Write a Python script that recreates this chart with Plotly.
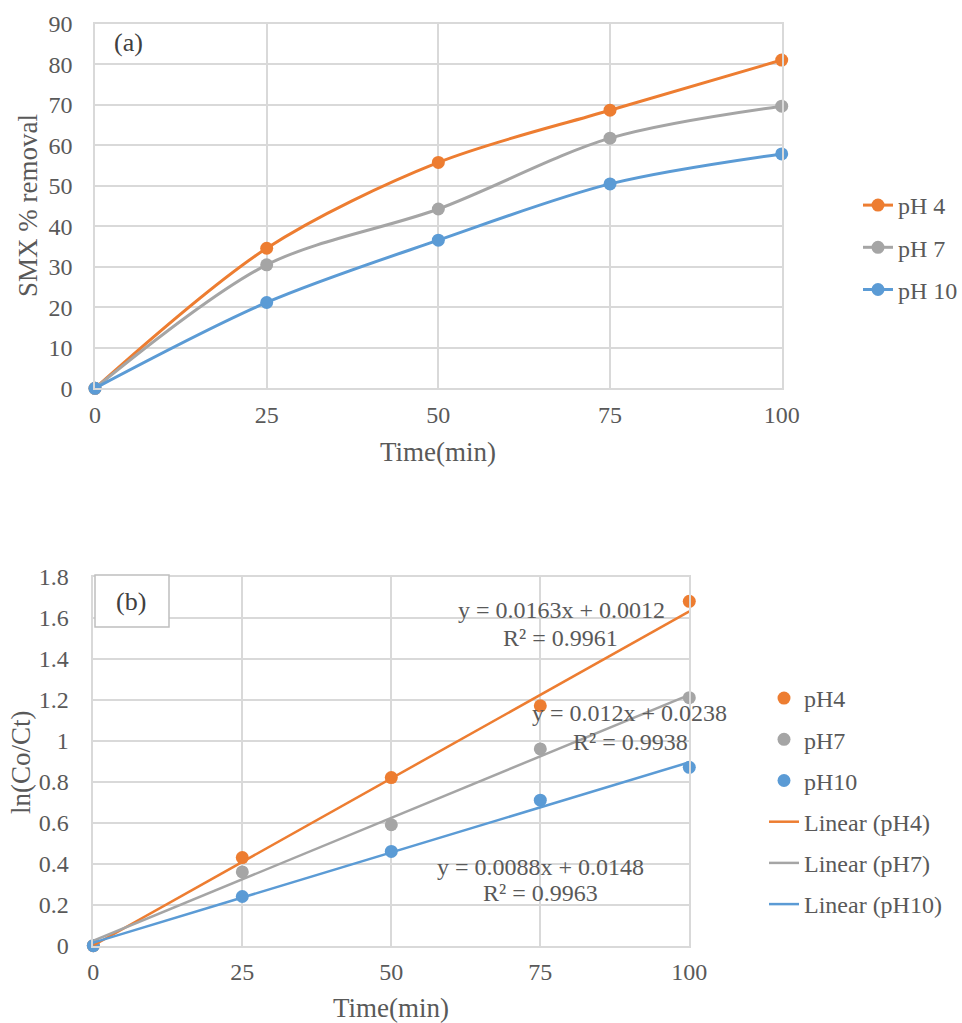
import numpy as np
import plotly.graph_objects as go

# ---- data ----
time_min = [0, 25, 50, 75, 100]

# (a) SMX % removal over time
removal_ph4 = [0, 34.6, 55.8, 68.7, 81.1]
removal_ph7 = [0, 30.5, 44.3, 61.8, 69.7]
removal_ph10 = [0, 21.2, 36.6, 50.5, 57.9]

# (b) pseudo-first-order kinetics, ln(Co/Ct)
ln_ph4 = [0, 0.43, 0.82, 1.17, 1.68]
ln_ph7 = [0, 0.36, 0.59, 0.96, 1.21]
ln_ph10 = [0, 0.24, 0.46, 0.71, 0.87]

# linear fits: slope, intercept, R²
fit_slope = [0.0163, 0.012, 0.0088]
fit_intercept = [0.0012, 0.0238, 0.0148]
fit_r2 = [0.9961, 0.9938, 0.9963]

labels_a = ["pH 4", "pH 7", "pH 10"]
labels_b = ["pH4", "pH7", "pH10"]
colors = ["#ED7D31", "#A5A5A5", "#5B9BD5"]

FONT = "Liberation Serif"
TXT = "#595959"
GRID = "#D9D9D9"
W, H = 962, 1023


def px(x):
    return x / W


def py(y):
    return 1 - y / H


fig = go.Figure()

# ---- panel (a) ----
for name, vals, c in zip(labels_a, [removal_ph4, removal_ph7, removal_ph10], colors):
    fig.add_trace(go.Scatter(
        x=time_min, y=vals, name=name, mode="lines+markers",
        line=dict(color=c, width=3, shape="spline", smoothing=0.9),
        marker=dict(color=c, size=13),
        xaxis="x", yaxis="y", legend="legend", legendgroup=name,
        cliponaxis=False,
    ))

# ---- panel (b) ----
for name, vals, c in zip(labels_b, [ln_ph4, ln_ph7, ln_ph10], colors):
    fig.add_trace(go.Scatter(
        x=time_min, y=vals, name=name, mode="markers",
        marker=dict(color=c, size=13),
        xaxis="x2", yaxis="y2", legend="legend2", legendgroup=name,
        cliponaxis=False,
    ))

t = np.array(time_min, dtype=float)
t_ends = t[[0, -1]]
for name, m, b, c in zip(labels_b, fit_slope, fit_intercept, colors):
    fig.add_trace(go.Scatter(
        x=t_ends, y=m * t_ends + b, name=f"Linear ({name})", mode="lines",
        line=dict(color=c, width=2.5),
        xaxis="x2", yaxis="y2", legend="legend2", legendgroup="lin" + name,
        cliponaxis=False,
    ))

axis_common = dict(
    showgrid=True, gridcolor=GRID, gridwidth=1.5,
    showline=True, linecolor=GRID, linewidth=1.5, mirror=True,
    zeroline=False, ticks="",
    tickfont=dict(family=FONT, size=24, color=TXT),
)

fig.update_layout(
    width=W, height=H,
    margin=dict(l=0, r=0, t=0, b=0, autoexpand=False),
    paper_bgcolor="white", plot_bgcolor="white",
    font=dict(family=FONT, size=24, color=TXT),
    xaxis=dict(domain=[px(95), px(781.7)], range=[0, 100], dtick=25,
               anchor="y", ticklabelstandoff=4, **axis_common),
    yaxis=dict(domain=[py(388.3), py(24)], range=[0, 90], dtick=10,
               anchor="x", ticklabelstandoff=16, **axis_common),
    xaxis2=dict(domain=[px(93.3), px(689.3)], range=[0, 100], dtick=25,
                anchor="y2", ticklabelstandoff=4, **axis_common),
    yaxis2=dict(domain=[py(945.7), py(576.7)], range=[0, 1.8], dtick=0.2,
                anchor="x2", ticklabelstandoff=18, **axis_common),
    legend=dict(x=px(858), y=py(183), xanchor="left", yanchor="top",
                font=dict(family=FONT, size=24, color=TXT),
                tracegroupgap=8, traceorder="grouped",
                bgcolor="rgba(0,0,0,0)"),
    legend2=dict(x=px(764), y=py(676), xanchor="left", yanchor="top",
                 font=dict(family=FONT, size=24, color=TXT),
                 tracegroupgap=7, traceorder="grouped",
                 bgcolor="rgba(0,0,0,0)"),
)

title_font = dict(family=FONT, size=27, color=TXT)
annotations = [
    dict(text="(a)", x=px(128), y=py(43), font=dict(size=26, color="#404040")),
    dict(text="SMX % removal", x=px(28), y=py(206), textangle=-90, font=title_font),
    dict(text="Time(min)", x=px(438), y=py(452), font=title_font),
    dict(text="(b)", x=px(131), y=py(601), font=dict(size=26, color="#404040")),
    dict(text="ln(Co/Ct)", x=px(21), y=py(762), textangle=-90, font=title_font),
    dict(text="Time(min)", x=px(391), y=py(1008), font=title_font),
]
for a in annotations:
    a.update(xref="paper", yref="paper", xanchor="center", yanchor="middle",
             showarrow=False)

# trendline equations, placed in data coordinates of panel (b)
eq_pos = [(78.6, 1.638, 78.4, 1.501), (90.0, 1.135, 90.2, 0.995), (75.0, 0.385, 75.0, 0.256)]
for (ex, ey, rx, ry), m, b, r2 in zip(eq_pos, fit_slope, fit_intercept, fit_r2):
    for txt, x, y in ((f"y = {m:g}x + {b:g}", ex, ey), (f"R² = {r2:g}", rx, ry)):
        annotations.append(dict(text=txt, x=x, y=y, xref="x2", yref="y2",
                                xanchor="center", yanchor="middle", showarrow=False,
                                font=dict(size=24, color=TXT)))

fig.update_layout(annotations=annotations)

# framed label box for panel (b)
fig.add_shape(type="rect", xref="paper", yref="paper",
              x0=px(95), x1=px(169), y0=py(627), y1=py(575),
              line=dict(color="#BFBFBF", width=1.5), fillcolor="white", layer="above")

fig.write_html("out.html")
